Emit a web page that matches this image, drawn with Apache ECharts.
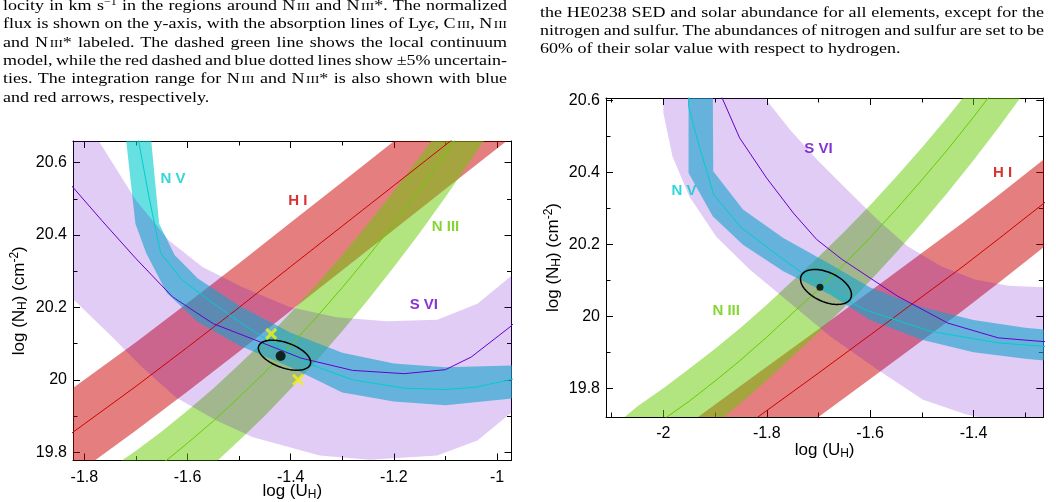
<!DOCTYPE html>
<html>
<head>
<meta charset="utf-8">
<script src="https://cdn.jsdelivr.net/npm/echarts@6/dist/echarts.min.js"></script>
<style>
html,body{margin:0;padding:0;background:#fff;}
#wrap{position:relative;width:1056px;height:502px;overflow:hidden;background:#fff;}
#chart{position:absolute;left:0;top:0;width:1056px;height:502px;}
.ln{position:absolute;white-space:nowrap;font-family:"Liberation Serif","Times New Roman",serif;font-size:15px;line-height:18.3px;color:#000;z-index:5;transform-origin:0 0;}
.sc{font-variant:small-caps;}
sup{font-size:10px;line-height:0;vertical-align:5px;}
</style>
</head>
<body>
<div id="wrap">
<div id="chart"></div>
<div class="ln" style="left:3px;top:-4.2px;">locity in km s<sup>−1</sup> in the regions around N&#8202;<span class="sc">iii</span> and N&#8202;<span class="sc">iii</span>*. The normalized</div>
<div class="ln" style="left:3px;top:14.1px;">flux is shown on the y-axis, with the absorption lines of Ly<i>ϵ</i>, C&#8202;<span class="sc">iii</span>, N&#8202;<span class="sc">iii</span></div>
<div class="ln" style="left:3px;top:32.5px;">and N&#8202;<span class="sc">iii</span>* labeled. The dashed green line shows the local continuum</div>
<div class="ln" style="left:3px;top:50.8px;">model, while the red dashed and blue dotted lines show ±5% uncertain-</div>
<div class="ln" style="left:3px;top:69.1px;">ties. The integration range for N&#8202;<span class="sc">iii</span> and N&#8202;<span class="sc">iii</span>* is also shown with blue</div>
<div class="ln last" style="left:3px;top:87.5px;">and red arrows, respectively.</div>
<div class="ln" style="left:540px;top:2.5px;">the HE0238 SED and solar abundance for all elements, except for the</div>
<div class="ln" style="left:540px;top:20.8px;">nitrogen and sulfur. The abundances of nitrogen and sulfur are set to be</div>
<div class="ln last" style="left:540px;top:39.1px;">60% of their solar value with respect to hydrogen.</div>
</div>
<script>
// ---------------- LEFT PANEL DATA (log U_H, log N_H) ----------------
const L_HI_mid = [[-1.85,19.826],[-1.7,19.982],[-1.6,20.09],[-1.5,20.20],[-1.4,20.313],[-1.3,20.425],[-1.2,20.537],[-1.1,20.649],[-1.0,20.761]];
const L_HI_hi  = [[-1.85,19.948],[-1.7,20.104],[-1.6,20.212],[-1.5,20.322],[-1.4,20.435],[-1.3,20.547],[-1.2,20.659],[-1.1,20.771]];
const L_HI_lo  = [[-1.85,19.704],[-1.7,19.86],[-1.6,19.968],[-1.5,20.078],[-1.4,20.191],[-1.3,20.303],[-1.2,20.415],[-1.1,20.527],[-1.0,20.639],[-0.95,20.695]];

const L_NIII_mid = [[-1.75,19.665],[-1.7,19.714],[-1.65,19.767],[-1.6,19.825],[-1.55,19.886],[-1.5,19.952],[-1.45,20.021],[-1.4,20.095],[-1.35,20.173],[-1.3,20.255],[-1.25,20.341],[-1.2,20.432],[-1.15,20.526],[-1.1,20.625],[-1.05,20.728]];
const L_NIII_hi  = [[-1.8,19.71],[-1.75,19.755],[-1.7,19.804],[-1.65,19.857],[-1.6,19.915],[-1.55,19.976],[-1.5,20.042],[-1.45,20.111],[-1.4,20.185],[-1.35,20.263],[-1.3,20.345],[-1.25,20.431],[-1.2,20.522],[-1.15,20.616],[-1.1,20.715]];
const L_NIII_lo  = [[-1.65,19.647],[-1.6,19.705],[-1.55,19.766],[-1.5,19.832],[-1.45,19.901],[-1.4,19.975],[-1.35,20.053],[-1.3,20.135],[-1.25,20.221],[-1.2,20.312],[-1.15,20.406],[-1.1,20.505],[-1.05,20.608],[-1.0,20.715]];

const L_NV_mid = [[-1.700,20.70],[-1.674,20.50],[-1.652,20.35],[-1.61,20.275],[-1.52,20.18],[-1.435,20.10],[-1.357,20.04],[-1.28,20.0],[-1.18,19.977],[-1.10,19.973],[-1.04,19.98],[-0.96,20.005]];
const L_NV_out = [[-1.673,20.70],[-1.655,20.431],[-1.625,20.345],[-1.58,20.28],[-1.50,20.205],[-1.40,20.13],[-1.30,20.075],[-1.20,20.045],[-1.10,20.035],[-0.96,20.04]];
const L_NV_in  = [[-1.722,20.70],[-1.701,20.431],[-1.68,20.35],[-1.64,20.24],[-1.58,20.16],[-1.50,20.095],[-1.40,20.035],[-1.30,19.965],[-1.20,19.94],[-1.10,19.93],[-0.96,19.95]];

const L_SVI_mid = [[-1.83,20.545],[-1.766,20.44],[-1.70,20.335],[-1.629,20.229],[-1.55,20.155],[-1.467,20.109],[-1.38,20.06],[-1.28,20.026],[-1.18,20.017],[-1.10,20.028],[-1.05,20.063],[-0.975,20.146],[-0.95,20.18]];
const L_SVI_hi  = [[-1.84,20.70],[-1.78,20.70],[-1.772,20.66],[-1.70,20.496],[-1.636,20.385],[-1.571,20.312],[-1.493,20.256],[-1.402,20.201],[-1.311,20.173],[-1.214,20.162],[-1.116,20.166],[-1.038,20.210],[-0.975,20.284],[-0.95,20.32]];
const L_SVI_lo  = [[-1.84,20.245],[-1.819,20.219],[-1.746,20.118],[-1.688,20.035],[-1.623,19.952],[-1.545,19.888],[-1.473,19.841],[-1.344,19.791],[-1.246,19.779],[-1.116,19.791],[-1.038,19.832],[-0.975,19.906],[-0.95,19.94]];

const L_best = [[-1.4195,20.066]];
const L_ellipseCenter = [-1.412,20.068];
const L_ellipseAxisA = [0.050,-0.0253];
const L_ellipseAxisB = [0.0082,0.0328];
const L_crosses = [[-1.4377,20.127],[-1.3857,20.0]];
const L_ionLabels = [['N V',-1.628,20.556],['H I',-1.386,20.494],['N III',-1.10,20.422],['S VI',-1.142,20.206]];

// ---------------- RIGHT PANEL DATA ----------------
const R_HI_mid = [[-1.95,19.58],[-1.82,19.717],[-1.7,19.842],[-1.6,19.948],[-1.5,20.054],[-1.42,20.139],[-1.35,20.217],[-1.25,20.33]];
const R_HI_hi  = [[-1.95,19.702],[-1.82,19.839],[-1.7,19.964],[-1.6,20.07],[-1.5,20.176],[-1.42,20.261],[-1.35,20.339],[-1.25,20.452]];
const R_HI_lo  = [[-1.82,19.595],[-1.7,19.72],[-1.6,19.826],[-1.5,19.932],[-1.42,20.017],[-1.35,20.095],[-1.25,20.208]];

const R_NIII_mid = [[-2.15,19.58],[-2.1,19.63],[-2.05,19.67],[-2.0,19.713],[-1.95,19.764],[-1.9,19.82],[-1.85,19.879],[-1.8,19.942],[-1.75,20.009],[-1.7,20.075],[-1.65,20.145],[-1.6,20.219],[-1.55,20.297],[-1.5,20.379],[-1.45,20.464],[-1.4,20.554],[-1.35,20.648]];
const R_NIII_hi  = [[-2.15,19.64],[-2.1,19.69],[-2.05,19.75],[-2.0,19.80],[-1.95,19.854],[-1.9,19.91],[-1.85,19.969],[-1.8,20.032],[-1.75,20.099],[-1.7,20.165],[-1.65,20.235],[-1.6,20.309],[-1.55,20.387],[-1.5,20.469],[-1.45,20.554],[-1.4,20.644],[-1.35,20.738]];
const R_NIII_lo  = [[-1.95,19.644],[-1.9,19.70],[-1.85,19.759],[-1.8,19.822],[-1.75,19.889],[-1.7,19.955],[-1.65,20.025],[-1.6,20.099],[-1.55,20.177],[-1.5,20.259],[-1.45,20.344],[-1.4,20.434],[-1.35,20.528],[-1.3,20.626],[-1.25,20.727]];

const R_NV_mid = [[-1.9513,20.65],[-1.9513,20.584],[-1.93,20.47],[-1.9025,20.338],[-1.849,20.246],[-1.768,20.158],[-1.702,20.091],[-1.612,20.019],[-1.482,19.958],[-1.352,19.926],[-1.25,19.915]];
const R_NV_out = [[-1.9045,20.65],[-1.9035,20.403],[-1.846,20.297],[-1.768,20.218],[-1.677,20.145],[-1.60,20.08],[-1.50,20.025],[-1.40,19.99],[-1.30,19.968],[-1.25,19.962]];
const R_NV_in  = [[-1.9513,20.65],[-1.9513,20.3985],[-1.9045,20.278],[-1.846,20.199],[-1.768,20.125],[-1.677,20.06],[-1.60,19.99],[-1.50,19.935],[-1.40,19.90],[-1.30,19.882],[-1.25,19.875]];

const R_SVI_mid = [[-1.899,20.65],[-1.8863,20.607],[-1.8525,20.496],[-1.8005,20.385],[-1.7485,20.287],[-1.703,20.213],[-1.6542,20.158],[-1.547,20.056],[-1.4495,19.981],[-1.352,19.94],[-1.2675,19.93],[-1.25,19.93]];
const R_SVI_hi  = [[-1.81,20.65],[-1.8037,20.607],[-1.755,20.519],[-1.703,20.436],[-1.6445,20.352],[-1.586,20.269],[-1.5275,20.195],[-1.4625,20.139],[-1.3975,20.102],[-1.3325,20.085],[-1.25,20.08]];
const R_SVI_lo  = [[-2.0,20.65],[-2.0,20.565],[-1.9825,20.445],[-1.95,20.334],[-1.898,20.222],[-1.833,20.13],[-1.755,20.037],[-1.677,19.944],[-1.586,19.852],[-1.4976,19.768],[-1.4138,19.727],[-1.352,19.708],[-1.25,19.70]];

const R_best = [[-1.6971,20.0806]];
const R_ellipseCenter = [-1.6854,20.0816];
const R_ellipseAxisA = [0.0478,-0.0315];
const R_ellipseAxisB = [0.012,0.037];
const R_ionLabels = [['S VI',-1.70,20.465],['H I',-1.344,20.40],['N V',-1.96,20.348],['N III',-1.8785,20.014]];

// axis extents
const L_xRange = [-1.822,-0.972], L_yRange = [19.777,20.66];
const R_xRange = [-2.111,-1.265], R_yRange = [19.72,20.607];

// ---------------- caption text justification (horizontal page scaling) ----------------
(function(){
  const S = 1.2, COLW = 504;
  document.querySelectorAll('.ln').forEach(el => {
    const nat = el.getBoundingClientRect().width;
    if (!el.classList.contains('last')) {
      const n = (el.textContent.match(/ /g) || []).length;
      if (n > 0) el.style.wordSpacing = ((COLW / S - nat) / n) + 'px';
    }
    el.style.transform = 'scaleX(' + S + ')';
  });
})();

// ---------------- STYLE ----------------
const FONT = "'Liberation Sans', Arial, Helvetica, sans-serif";
const COL = {
  HI:  {fill:'rgba(204,0,0,0.5)',   line:'#CC0000'},
  NIII:{fill:'rgba(102,204,0,0.5)', line:'#66CC00'},
  NV:  {fill:'rgba(0,204,204,0.6)', line:'#00CCCC'},
  SVI: {fill:'rgba(102,0,204,0.2)', line:'#6600CC'}
};
const labelColor = {'N V':'#00CCCC','H I':'#CC0000','N III':'#66CC00','S VI':'#6600CC'};

function fmt(v){
  const k = Math.round(v/0.2);
  if (Math.abs(v - k*0.2) > 1e-6) return '';
  return String(+(k*0.2).toFixed(1));
}
const rich = {
  t:{fontSize:17, fontFamily:FONT, color:'#000', lineHeight:20, verticalAlign:'middle'},
  s:{fontSize:12, fontFamily:FONT, color:'#000', lineHeight:12, verticalAlign:'bottom'},
  p:{fontSize:12, fontFamily:FONT, color:'#000', lineHeight:12, verticalAlign:'top'}
};

function axisSet(dim, gi, range, name, nameGap, labelMargin){
  const isX = dim === 'x';
  const pos = isX ? ['bottom','top'] : ['left','right'];
  const arr = [];
  [0,1].forEach(side => {
    [true,false].forEach(major => {
      const a = {
        type:'value', gridIndex:gi, position:pos[side], min:range[0], max:range[1],
        splitNumber: major ? 5 : 8,
        axisLine:{show:major, onZero:false, lineStyle:{color:'#000', width:1}},
        axisTick:{show:true, inside:true, length: major ? 7 : 4.5, lineStyle:{color:'#000', width:1}},
        axisLabel:{show: side===0 && major, margin:labelMargin, fontSize:16, color:'#000', fontFamily:FONT, formatter:fmt},
        splitLine:{show:false},
        minorTick:{show:false},
        silent:true
      };
      if (side===0 && major){
        a.name = name; a.nameLocation = 'middle'; a.nameGap = nameGap;
        a.nameMoveOverlap = false;
        a.nameTextStyle = {fontSize:17, fontFamily:FONT, color:'#000', rich:rich};
      }
      arr.push(a);
    });
  });
  return arr;
}

const xName = '{t|log (U}{s|H}{t|)}';
const yName = '{t|log (N}{s|H}{t|) (cm}{p|-2}{t|)}';

function band(upper, lower, fill, ai){
  const pts = upper.concat(lower.slice().reverse());
  return {
    type:'custom', xAxisIndex:ai, yAxisIndex:ai, clip:true, silent:true, z:2,
    data: pts,
    renderItem: function(params, api){
      if (params.dataIndex !== 0) return null;
      return {type:'polygon', shape:{points: pts.map(p => api.coord(p))}, style:{fill:fill}};
    }
  };
}
function midLine(pts, color, ai){
  return {type:'line', xAxisIndex:ai, yAxisIndex:ai, data:pts, showSymbol:false, symbol:'none',
    clip:true, silent:true, z:3, lineStyle:{color:color, width:1}, animation:false};
}
function ellipse(center, A, B, ai){
  return {
    type:'custom', xAxisIndex:ai, yAxisIndex:ai, clip:true, silent:true, z:4,
    data:[center],
    renderItem: function(params, api){
      const c = api.coord(center);
      const a = api.coord([center[0]+A[0], center[1]+A[1]]);
      const b = api.coord([center[0]+B[0], center[1]+B[1]]);
      const pts = [];
      for (let i=0;i<96;i++){
        const t = i/96*2*Math.PI;
        pts.push([c[0]+(a[0]-c[0])*Math.cos(t)+(b[0]-c[0])*Math.sin(t),
                  c[1]+(a[1]-c[1])*Math.cos(t)+(b[1]-c[1])*Math.sin(t)]);
      }
      return {type:'polygon', shape:{points:pts}, style:{fill:'none', stroke:'#000', lineWidth:1.5}};
    }
  };
}
function ionLabels(list, ai){
  return {type:'scatter', xAxisIndex:ai, yAxisIndex:ai, symbolSize:0, silent:true, z:6,
    data: list.map(l => ({value:[l[1],l[2]], name:l[0], label:{color:labelColor[l[0]]}})),
    label:{show:true, position:'inside', formatter:'{b}', fontSize:15, fontWeight:'bold', fontFamily:FONT}};
}

const chart = echarts.init(document.getElementById('chart'), null, {renderer:'canvas'});
const option = {
  animation:false,
  backgroundColor:'#fff',
  grid:[
    {left:73, top:141, width:438.5, height:319.5, containLabel:false, outerBoundsMode:'none'},
    {left:606, top:98, width:437.3, height:319, containLabel:false, outerBoundsMode:'none'}
  ],
  xAxis: axisSet('x',0,L_xRange,xName,20.5,9).concat(axisSet('x',1,R_xRange,xName,23,9)),
  yAxis: axisSet('y',0,L_yRange,yName,44,6).concat(axisSet('y',1,R_yRange,yName,43,6)),
  series:[
    band(L_HI_hi, L_HI_lo, COL.HI.fill, 0),
    band(L_NIII_hi, L_NIII_lo, COL.NIII.fill, 0),
    band(L_NV_out, L_NV_in, COL.NV.fill, 0),
    band(L_SVI_hi, L_SVI_lo, COL.SVI.fill, 0),
    midLine(L_HI_mid, COL.HI.line, 0),
    midLine(L_NIII_mid, COL.NIII.line, 0),
    midLine(L_NV_mid, COL.NV.line, 0),
    midLine(L_SVI_mid, COL.SVI.line, 0),
    ellipse(L_ellipseCenter, L_ellipseAxisA, L_ellipseAxisB, 0),
    {type:'scatter', xAxisIndex:0, yAxisIndex:0, data:L_best, symbol:'circle', symbolSize:10, itemStyle:{color:'#000'}, silent:true, z:5},
    {type:'scatter', xAxisIndex:0, yAxisIndex:0, data:L_crosses, symbol:'path://M0,0L10,10M10,0L0,10', symbolSize:10,
      itemStyle:{color:'rgba(0,0,0,0)', borderColor:'#F2F20C', borderWidth:3}, silent:true, z:5},
    ionLabels(L_ionLabels, 0),

    band(R_HI_hi, R_HI_lo, COL.HI.fill, 4),
    band(R_NIII_hi, R_NIII_lo, COL.NIII.fill, 4),
    band(R_NV_out, R_NV_in, COL.NV.fill, 4),
    band(R_SVI_hi, R_SVI_lo, COL.SVI.fill, 4),
    midLine(R_HI_mid, COL.HI.line, 4),
    midLine(R_NIII_mid, COL.NIII.line, 4),
    midLine(R_NV_mid, COL.NV.line, 4),
    midLine(R_SVI_mid, COL.SVI.line, 4),
    ellipse(R_ellipseCenter, R_ellipseAxisA, R_ellipseAxisB, 4),
    {type:'scatter', xAxisIndex:4, yAxisIndex:4, data:R_best, symbol:'circle', symbolSize:7, itemStyle:{color:'#000'}, silent:true, z:5},
    ionLabels(R_ionLabels, 4)
  ]
};
chart.setOption(option);
</script>
</body>
</html>
